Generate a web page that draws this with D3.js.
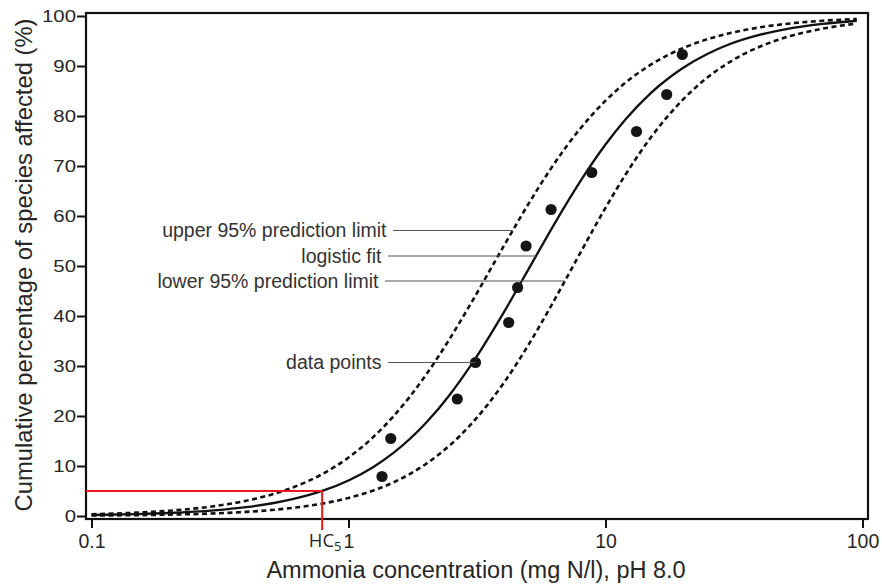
<!DOCTYPE html>
<html>
<head>
<meta charset="utf-8">
<script src="https://cdn.jsdelivr.net/npm/d3@7/dist/d3.min.js"></script>
<style>
  html, body { margin: 0; padding: 0; background: #fff; }
  svg { display: block; }
</style>
</head>
<body>
<svg id="chart" width="882" height="588"></svg>
<script>
// ---------------- data ----------------
const xTicks = [0.1, 1, 10, 100];
const xTickLabels = ["0.1", "1", "10", "100"];
const yTicks = [0, 10, 20, 30, 40, 50, 60, 70, 80, 90, 100];
const yTickLabels = ["0", "10", "20", "30", "40", "50", "60", "70", "80", "90", "100"];

// observed data points: concentration (mg N/l) and cumulative % affected
const pointConc = [1.35, 1.46, 2.65, 3.12, 4.20, 4.55, 4.91, 6.14, 8.84, 13.2, 17.3, 19.9];
const pointPct  = [7.9, 15.5, 23.4, 30.7, 38.7, 45.7, 54.0, 61.3, 68.7, 76.9, 84.3, 92.3];

// curves, read along the concentration axis
const curveConc = [0.1, 0.15, 0.2, 0.3, 0.4, 0.5, 0.6, 0.8, 1, 1.25, 1.5, 2, 2.5, 3, 4, 5, 6, 7, 8, 10, 12, 15, 20, 25, 30, 40, 50, 70, 95];
const fitPct   = [0.20, 0.38, 0.60, 1.13, 1.77, 2.50, 3.31, 5.11, 7.11, 9.81, 12.66, 18.59, 24.51, 30.21, 40.54, 49.22, 56.38, 62.23, 67.04, 74.31, 79.41, 84.58, 89.61, 92.46, 94.24, 96.26, 97.34, 98.42, 99.05];
const upperPct = [0.36, 0.67, 1.05, 1.96, 3.05, 4.27, 5.61, 8.53, 11.69, 15.82, 20.0, 28.19, 35.78, 42.59, 53.81, 62.31, 68.76, 73.71, 77.56, 83.06, 86.72, 90.26, 93.57, 95.38, 96.49, 97.74, 98.40, 99.05, 99.40];
const lowerPct = [0.09, 0.17, 0.27, 0.52, 0.83, 1.19, 1.60, 2.53, 3.61, 5.11, 6.76, 10.40, 14.31, 18.36, 26.46, 34.12, 41.10, 47.29, 52.73, 61.63, 68.38, 75.69, 83.27, 87.76, 90.61, 93.91, 95.69, 97.47, 98.50];

// HC5
const hc5Conc = 0.79;
const hc5Pct = 5;

// annotations: label, % level of the leader, concentration where the leader ends
const annLabels = ["upper 95% prediction limit", "logistic fit", "lower 95% prediction limit", "data points"];
const annPct    = [57.1, 52.0, 47.0, 30.7];
const annConc   = [4.36, 5.37, 6.95, 3.12];

const xTitle = "Ammonia concentration (mg N/l), pH 8.0";
const yTitle = "Cumulative percentage of species affected (%)";

// ---------------- layout ----------------
const svg = d3.select("#chart");
const box = { left: 86, top: 13, right: 868, bottom: 519 };
const x = d3.scaleLog().domain([0.1, 100]).range([91.5, 862.5]);
const y = d3.scaleLinear().domain([0, 100]).range([516, 16]);
const textColor = "#262626";
const baseFont = "'Liberation Sans', Arial, Helvetica, sans-serif";

// frame
svg.append("rect")
  .attr("x", box.left).attr("y", box.top)
  .attr("width", box.right - box.left).attr("height", box.bottom - box.top)
  .attr("fill", "none").attr("stroke", "#111").attr("stroke-width", 2.2);

// y axis
const yAxis = d3.axisLeft(y).tickValues(yTicks)
  .tickFormat((d, i) => yTickLabels[i]).tickSize(9).tickSizeOuter(0).tickPadding(1);
const gy = svg.append("g").attr("transform", `translate(${box.left},0)`).call(yAxis);
gy.select(".domain").remove();
gy.selectAll(".tick line").attr("stroke", "#111").attr("stroke-width", 2);
gy.selectAll(".tick text")
  .attr("fill", textColor)
  .attr("x", 0)
  .attr("transform", "translate(-10,0) scale(1.2,1)")
  .style("font-family", baseFont).style("font-size", "17px");

// x axis
const xAxis = d3.axisBottom(x).tickValues(xTicks)
  .tickFormat((d, i) => xTickLabels[i]).tickSize(9).tickSizeOuter(0).tickPadding(6);
const gx = svg.append("g").attr("transform", `translate(0,${box.bottom})`).call(xAxis);
gx.select(".domain").remove();
gx.selectAll(".tick line").attr("stroke", "#111").attr("stroke-width", 2);
gx.selectAll(".tick text").attr("fill", textColor)
  .style("font-family", baseFont).style("font-size", "19.5px");

// axis titles
svg.append("text")
  .attr("x", 476).attr("y", 578)
  .attr("text-anchor", "middle")
  .attr("fill", textColor)
  .style("font-family", baseFont).style("font-size", "23.5px")
  .text(xTitle);

svg.append("text")
  .attr("transform", "translate(32,265) rotate(-90)")
  .attr("text-anchor", "middle")
  .attr("fill", textColor)
  .style("font-family", baseFont).style("font-size", "23.8px")
  .text(yTitle);

// curves
const line = (vals) => d3.line()
  .x((d, i) => x(curveConc[i]))
  .y((d, i) => y(vals[i]))
  .curve(d3.curveMonotoneX)(vals);

svg.append("path").attr("d", line(upperPct))
  .attr("fill", "none").attr("stroke", "#111").attr("stroke-width", 2.6)
  .attr("stroke-dasharray", "5,3.5");
svg.append("path").attr("d", line(lowerPct))
  .attr("fill", "none").attr("stroke", "#111").attr("stroke-width", 2.6)
  .attr("stroke-dasharray", "5,3.5");
svg.append("path").attr("d", line(fitPct))
  .attr("fill", "none").attr("stroke", "#111").attr("stroke-width", 2.3);

// HC5 red lines
svg.append("line")
  .attr("x1", box.left).attr("x2", x(hc5Conc))
  .attr("y1", y(hc5Pct)).attr("y2", y(hc5Pct))
  .attr("stroke", "#e8191c").attr("stroke-width", 2);
svg.append("line")
  .attr("x1", x(hc5Conc)).attr("x2", x(hc5Conc))
  .attr("y1", y(hc5Pct)).attr("y2", box.bottom + 11)
  .attr("stroke", "#e8191c").attr("stroke-width", 2);

const hcText = svg.append("text")
  .attr("x", x(hc5Conc) + 3).attr("y", 547)
  .attr("text-anchor", "middle")
  .attr("fill", textColor)
  .style("font-family", "'Open Sans', 'Noto Sans', sans-serif").style("font-size", "18.5px");
hcText.append("tspan").text("HC");
hcText.append("tspan").attr("dy", 4).style("font-size", "13px").text("5");

// data points
svg.append("g").selectAll("circle")
  .data(pointConc)
  .join("circle")
  .attr("cx", d => x(d))
  .attr("cy", (d, i) => y(pointPct[i]))
  .attr("r", 5.6)
  .attr("fill", "#151515");

// annotations
const leaderStart = [393, 388, 385, 388];
annLabels.forEach((lab, i) => {
  const yy = y(annPct[i]);
  svg.append("line")
    .attr("x1", leaderStart[i]).attr("x2", x(annConc[i]))
    .attr("y1", yy).attr("y2", yy)
    .attr("stroke", "#555").attr("stroke-width", 1.2);
  svg.append("text")
    .attr("x", leaderStart[i] - 6.5).attr("y", yy)
    .attr("dy", "0.35em")
    .attr("text-anchor", "end")
    .attr("fill", "#333")
    .style("font-family", baseFont).style("font-size", "19.5px")
    .text(lab);
});
</script>
</body>
</html>
